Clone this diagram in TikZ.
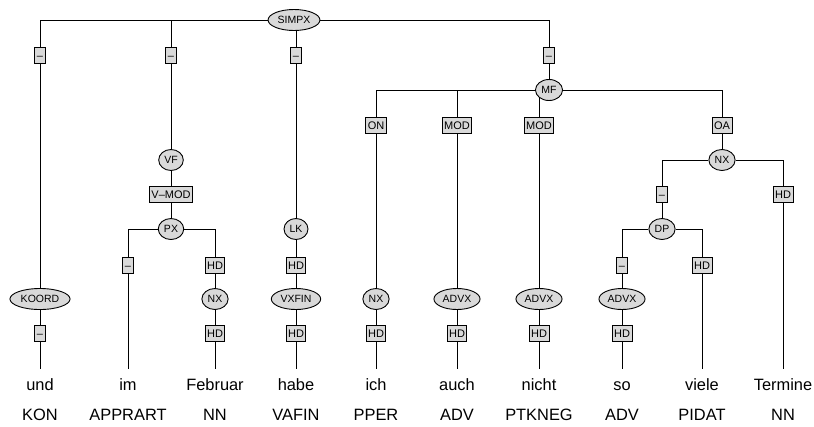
\documentclass[tikz,border=0pt]{standalone}
\usepackage{fontspec}
\setmainfont{Liberation Sans}
\usetikzlibrary{shapes.geometric}
\pgfdeclarelayer{edges}
\pgfsetlayers{edges,main}
\definecolor{boxgray}{HTML}{D9D9D9}
\begin{document}
\begin{tikzpicture}[x=1pt,y=-1pt,
  cat/.style={ellipse,draw=black,fill=boxgray,line width=0.9pt,
    inner xsep=2pt,inner ysep=1pt,minimum width=24pt,minimum height=21pt,
    text height=7.5pt,text depth=0pt,font=\fontsize{10.5}{12}\selectfont},
  fn/.style={rectangle,draw=black,fill=boxgray,line width=0.9pt,
    inner xsep=2pt,inner ysep=0pt,minimum width=10pt,minimum height=16pt,
    text height=8pt,text depth=0pt,font=\fontsize{11}{13}\selectfont},
  tokentext/.style={anchor=north,inner xsep=0pt,inner ysep=9pt,
    text height=12pt,text depth=3.5pt,font=\fontsize{16.4}{19}\selectfont},
  tagtext/.style={anchor=base,inner sep=0pt,font=\fontsize{16.4}{19}\selectfont},
  tree/.style={line width=0.9pt,draw=black}]
\useasboundingbox (0,0) rectangle (814,426);

% phrase nodes
\node[cat] (simpx) at (294,20) {SIMPX};
\node[cat] (koord) at (40,299) {KOORD};
\node[cat] (vf) at (171,160) {VF};
\node[cat] (px) at (171,229) {PX};
\node[cat] (nxa) at (215,299) {NX};
\node[cat] (lk) at (296,229) {LK};
\node[cat] (vxfin) at (296,299) {VXFIN};
\node[cat] (mf) at (549,90) {MF};
\node[cat] (nxb) at (376,299) {NX};
\node[cat] (advxa) at (457,299) {ADVX};
\node[cat] (advxb) at (539,299) {ADVX};
\node[cat] (nxc) at (722,160) {NX};
\node[cat] (dp) at (662,229) {DP};
\node[cat] (advxc) at (622,299) {ADVX};

% edge labels
\node[fn] (fkoord) at (40,55) {–};
\node[fn] (fvf) at (171,55) {–};
\node[fn] (flk) at (296,55) {–};
\node[fn] (fmf) at (549,55) {–};
\node[fn] (fund) at (40,333) {–};
\node[fn] (fpx) at (171,194) {V–MOD};
\node[fn] (fim) at (128,265) {–};
\node[fn] (fnxa) at (215,265) {HD};
\node[fn] (ffeb) at (215,333) {HD};
\node[fn] (fvxfin) at (296,265) {HD};
\node[fn] (fhabe) at (296,333) {HD};
\node[fn] (fnxb) at (376,125) {ON};
\node[fn] (fich) at (376,333) {HD};
\node[fn] (fadvxa) at (457,125) {MOD};
\node[fn] (fauch) at (457,333) {HD};
\node[fn] (fadvxb) at (539,125) {MOD};
\node[fn] (fnicht) at (539,333) {HD};
\node[fn] (fnxc) at (722,125) {OA};
\node[fn] (fdp) at (662,194) {–};
\node[fn] (fterm) at (783,194) {HD};
\node[fn] (fadvxc) at (622,265) {–};
\node[fn] (fso) at (622,333) {HD};
\node[fn] (fviele) at (702,265) {HD};

% tokens and tags
\foreach \n/\x/\w/\t in {und/40/und/KON, im/128/im/APPRART, feb/215/Februar/NN,
    habe/296/habe/VAFIN, ich/376/ich/PPER, auch/457/auch/ADV,
    nicht/539/nicht/PTKNEG, so/622/so/ADV, viele/702/viele/PIDAT,
    term/783/Termine/NN}{
  \node[tokentext] (w\n) at (\x,369) {\w};
  \node[tagtext] (t\n) at (\x,420) {\t};
}

% tree edges
\begin{pgfonlayer}{edges}
\draw[tree] (simpx) -| (fkoord) -- (koord) -- (fund) -- (wund);
\draw[tree] (simpx) -| (fvf) -- (vf) -- (fpx) -- (px);
\draw[tree] (px) -| (fim) -- (wim);
\draw[tree] (px) -| (fnxa) -- (nxa) -- (ffeb) -- (wfeb);
\draw[tree] (simpx.south) ++(2,0) -- (flk);
\draw[tree] (flk) -- (lk) -- (fvxfin) -- (vxfin) -- (fhabe) -- (whabe);
\draw[tree] (simpx) -| (fmf) -- (mf);
\draw[tree] (mf) -| (fnxb) -- (nxb) -- (fich) -- (wich);
\draw[tree] (mf) -| (fadvxa) -- (advxa) -- (fauch) -- (wauch);
\draw[tree] (mf.center) -| (fadvxb) -- (advxb) -- (fnicht) -- (wnicht);
\draw[tree] (mf) -| (fnxc) -- (nxc);
\draw[tree] (nxc) -| (fdp) -- (dp);
\draw[tree] (dp) -| (fadvxc) -- (advxc) -- (fso) -- (wso);
\draw[tree] (dp) -| (fviele) -- (wviele);
\draw[tree] (nxc) -| (fterm) -- (wterm);
\end{pgfonlayer}
\end{tikzpicture}
\end{document}
